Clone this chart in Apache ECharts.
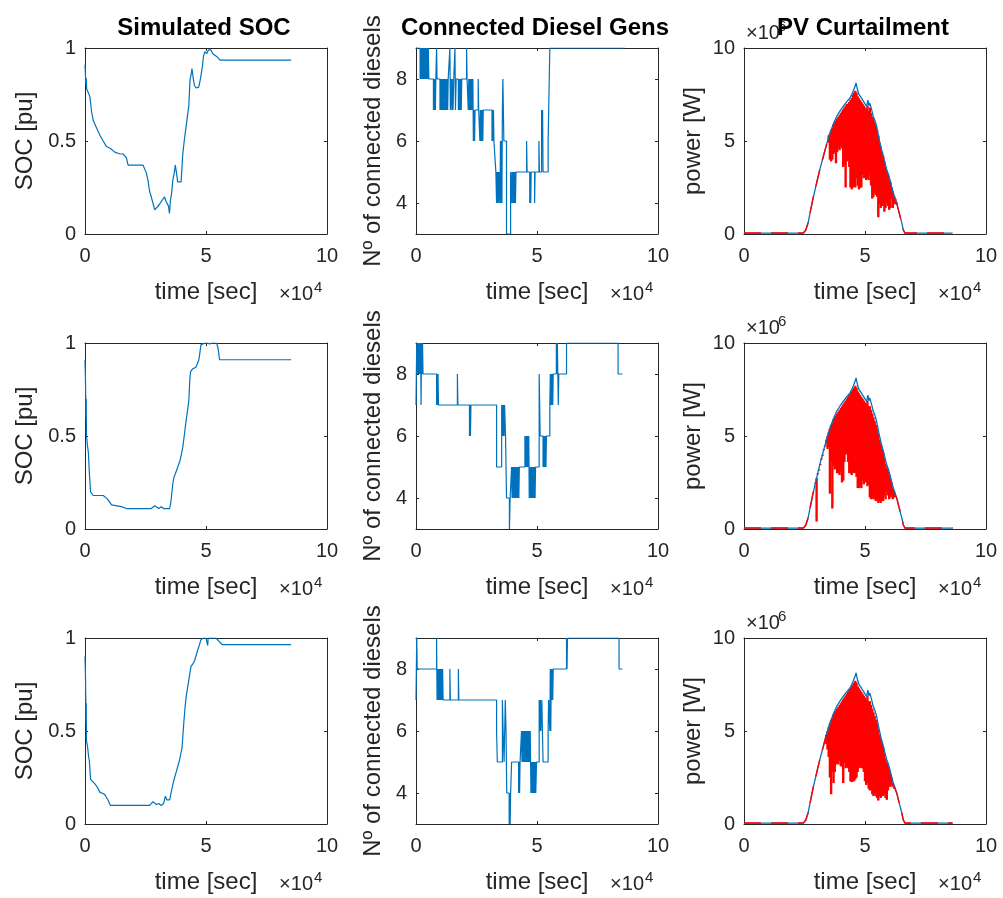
<!DOCTYPE html>
<html>
<head>
<meta charset="utf-8">
<script src="https://cdn.jsdelivr.net/npm/echarts@6/dist/echarts.min.js"></script>
<style>
html,body{margin:0;padding:0;background:#fff;}
#chart{width:1003px;height:898px;}
</style>
</head>
<body>
<div id="chart"></div>
<script>
// ---------- tick labels / titles ----------
const columnTitles = ['Simulated SOC', 'Connected Diesel Gens', 'PV Curtailment'];
const yAxisNames = ['SOC [pu]', 'Nº of connected diesels', 'power [W]'];
const xAxisName = 'time [sec]';
const xTicks = [0, 5, 10];          // ×10^4 sec
const socTicks = [0, 0.5, 1];
const dieselTicks = [4, 6, 8];
const pvTicks = [0, 5, 10];         // ×10^6 W

// ---------- SOC (time in 1e4 s, SOC in pu) ----------
const soc1 = [[0,0.91],[0.02,0.85],[0.04,0.80],[0.05,0.84],[0.07,0.78],[0.12,0.77],[0.2,0.74],[0.27,0.66],[0.34,0.61],[0.48,0.57],[0.62,0.53],[0.75,0.50],[0.89,0.47],[1.05,0.46],[1.23,0.44],[1.45,0.43],[1.58,0.43],[1.71,0.41],[1.78,0.37],[2.1,0.37],[2.40,0.37],[2.53,0.33],[2.60,0.29],[2.67,0.23],[2.78,0.18],[2.88,0.13],[2.95,0.14],[3.08,0.16],[3.18,0.18],[3.29,0.20],[3.33,0.18],[3.40,0.18],[3.45,0.15],[3.49,0.11],[3.53,0.18],[3.58,0.22],[3.63,0.29],[3.69,0.33],[3.73,0.37],[3.78,0.33],[3.83,0.28],[3.97,0.28],[4.04,0.43],[4.10,0.50],[4.15,0.55],[4.22,0.62],[4.29,0.69],[4.34,0.83],[4.39,0.86],[4.42,0.89],[4.45,0.86],[4.48,0.83],[4.52,0.80],[4.59,0.785],[4.64,0.79],[4.70,0.79],[4.75,0.82],[4.79,0.85],[4.85,0.90],[4.89,0.95],[4.95,0.98],[5.0,0.99],[5.04,0.97],[5.07,0.97],[5.1,0.99],[5.14,1.0],[5.2,0.99],[5.27,0.97],[5.35,0.96],[5.48,0.95],[5.58,0.935],[8.52,0.935]];
const soc2 = [[0,0.91],[0.02,0.80],[0.03,0.70],[0.04,0.60],[0.05,0.70],[0.06,0.50],[0.08,0.48],[0.10,0.45],[0.14,0.41],[0.18,0.30],[0.23,0.20],[0.28,0.19],[0.34,0.18],[0.75,0.18],[0.82,0.17],[0.89,0.166],[0.96,0.155],[1.03,0.148],[1.10,0.13],[1.16,0.12],[1.5,0.12],[1.71,0.11],[2.74,0.11],[2.82,0.12],[2.88,0.125],[2.95,0.115],[3.05,0.11],[3.15,0.12],[3.25,0.11],[3.49,0.11],[3.53,0.13],[3.56,0.157],[3.63,0.246],[3.68,0.28],[3.74,0.30],[3.84,0.336],[3.93,0.37],[3.98,0.40],[4.04,0.44],[4.10,0.50],[4.18,0.585],[4.24,0.64],[4.29,0.69],[4.33,0.80],[4.36,0.845],[4.44,0.86],[4.52,0.854],[4.58,0.87],[4.63,0.88],[4.70,0.907],[4.75,0.95],[4.79,0.99],[4.86,1.0],[4.95,1.0],[5.0,0.99],[5.05,1.0],[5.15,0.995],[5.25,1.0],[5.44,1.0],[5.5,0.97],[5.55,0.96],[5.56,0.91],[8.52,0.91]];
const soc3 = [[0,0.90],[0.02,0.80],[0.03,0.69],[0.04,0.55],[0.05,0.65],[0.06,0.45],[0.11,0.41],[0.15,0.36],[0.18,0.34],[0.23,0.24],[0.30,0.23],[0.41,0.216],[0.5,0.20],[0.62,0.17],[0.72,0.165],[0.82,0.158],[0.90,0.14],[0.96,0.126],[1.05,0.10],[2.67,0.10],[2.75,0.11],[2.81,0.12],[2.88,0.11],[2.95,0.105],[3.05,0.11],[3.15,0.10],[3.25,0.11],[3.32,0.15],[3.38,0.13],[3.45,0.12],[3.50,0.13],[3.56,0.17],[3.66,0.23],[3.77,0.28],[3.90,0.34],[4.01,0.41],[4.08,0.54],[4.13,0.62],[4.18,0.685],[4.29,0.775],[4.38,0.847],[4.45,0.86],[4.52,0.874],[4.60,0.91],[4.66,0.937],[4.72,0.96],[4.79,0.99],[4.89,1.0],[5.0,1.0],[5.05,0.99],[5.07,0.96],[5.09,1.0],[5.41,1.0],[5.48,0.99],[5.55,0.98],[5.62,0.97],[5.68,0.964],[8.52,0.964]];

// ---------- connected diesels (step: value held from t to next t) ----------
const diesel1 = [[0,9],[0.17,8],[0.19,9],[0.21,8],[0.23,9],[0.25,8],[0.27,9],[0.29,8],[0.31,9],[0.33,8],[0.35,9],[0.37,8],[0.39,9],[0.41,8],[0.43,9],[0.45,8],[0.47,9],[0.49,8],[0.51,9],[0.53,8],
 [0.72,7],[0.74,8],[0.76,7],[0.78,8],[0.80,7],[0.82,8],[0.85,9],[0.87,8],[0.99,7],[1.01,8],[1.03,7],[1.05,8],[1.07,7],[1.09,8],[1.11,7],[1.13,8],[1.15,7],[1.17,8],[1.19,7],[1.21,8],[1.23,7],[1.25,8],[1.27,7],[1.29,8],[1.31,7],[1.33,8],[1.40,9],[1.42,7],[1.45,8],[1.48,7],[1.50,8],[1.53,7],[1.56,8],[1.61,9],[1.63,7],[1.66,8],[1.75,7],[1.77,8],[1.79,7],[1.81,8],[1.83,7],[1.85,8],[1.87,7],[1.89,8],[2.09,9],[2.11,8],[2.16,7],[2.18,8],[2.20,7],[2.22,8],[2.24,7],[2.26,8],[2.28,7],[2.30,8],[2.32,7],[2.35,8],[2.37,6],[2.40,7],[2.42,6],[2.44,7],[2.57,8],[2.59,7],[2.64,6],[2.66,7],[2.68,6],[2.70,7],[2.72,6],[2.74,7],[2.76,6],[2.78,7],[3.14,6],[3.16,7],[3.18,6],[3.20,7],[3.22,6],[3.30,5],[3.33,4],[3.35,5],[3.37,4],[3.39,5],[3.41,4],[3.43,5],[3.47,4],[3.49,6],[3.51,4],[3.53,6],[3.55,4],[3.57,7],[3.59,8],[3.61,7],[3.63,6],[3.74,3],[3.91,5],[3.95,4],[3.97,5],[3.99,4],[4.01,5],[4.03,4],[4.05,5],[4.07,4],[4.09,5],[4.11,4],[4.13,5],[4.57,6],[4.59,5],[4.70,4],[4.72,5],[4.74,4],[4.76,5],[4.90,4],[4.92,5],[5.08,6],[5.10,5],[5.19,7],[5.21,6],[5.23,7],[5.25,5],[5.46,6],[5.53,9],[8.62,9]];
const diesel2 = [[0,7],[0.03,9],[0.05,8],[0.07,9],[0.09,8],[0.11,9],[0.13,8],[0.15,9],[0.17,8],[0.19,9],[0.21,7],[0.23,9],[0.25,8],[0.27,9],[0.29,8],[0.85,7],[0.87,8],[0.89,7],[0.91,8],[0.93,7],[1.71,8],[1.73,7],[2.21,6],[2.23,7],[2.25,6],[2.27,7],[3.33,5],[3.54,7],[3.56,6],[3.58,7],[3.60,6],[3.62,7],[3.64,6],[3.66,7],[3.70,6],[3.74,4],[3.86,3],[3.89,4],[3.95,5],[3.97,4],[3.99,5],[4.01,4],[4.03,5],[4.05,4],[4.07,5],[4.09,4],[4.11,5],[4.13,4],[4.15,5],[4.17,4],[4.19,5],[4.21,4],[4.23,5],[4.25,4],[4.27,5],[4.50,6],[4.52,5],[4.54,6],[4.56,5],[4.58,6],[4.60,5],[4.62,6],[4.64,5],[4.66,6],[4.68,4],[4.70,5],[4.72,4],[4.74,5],[4.76,4],[4.78,5],[4.80,4],[4.82,5],[4.84,4],[4.86,5],[4.88,4],[4.90,5],[4.92,4],[4.94,5],[5.09,8],[5.11,7],[5.13,6],[5.25,5],[5.27,6],[5.29,5],[5.31,6],[5.33,5],[5.35,6],[5.37,5],[5.39,6],[5.53,7],[5.55,8],[5.57,7],[5.59,8],[5.61,7],[5.63,8],[5.65,7],[5.67,8],[5.80,9],[5.82,8],[5.84,9],[5.86,8],[5.88,7],[5.90,8],[6.22,9],[8.35,8],[8.53,8]];
const diesel3 = [[0,7],[0.03,9],[0.05,8],[0.85,9],[0.87,7],[0.89,8],[0.91,7],[0.93,8],[0.95,7],[0.97,8],[0.99,7],[1.01,8],[1.03,7],[1.05,8],[1.07,7],[1.10,8],[1.12,7],[1.40,8],[1.42,7],[1.75,8],[1.77,7],[3.33,6],[3.36,5],[3.57,7],[3.60,6],[3.64,5],[3.69,7],[3.72,6],[3.75,4],[3.85,3],[3.87,4],[3.89,3],[3.91,4],[3.95,5],[4.24,4],[4.26,5],[4.28,4],[4.30,5],[4.36,6],[4.38,5],[4.40,6],[4.42,5],[4.44,6],[4.46,5],[4.48,6],[4.50,5],[4.52,6],[4.54,5],[4.56,6],[4.58,5],[4.60,6],[4.62,5],[4.64,6],[4.66,5],[4.68,6],[4.70,5],[4.72,6],[4.75,4],[4.77,5],[4.79,4],[4.81,5],[4.83,4],[4.85,5],[4.87,4],[4.89,5],[4.91,4],[4.93,5],[4.95,4],[4.98,5],[5.09,7],[5.12,6],[5.14,7],[5.16,6],[5.20,7],[5.25,5],[5.46,6],[5.48,7],[5.53,6],[5.55,8],[5.57,6],[5.59,8],[5.61,7],[5.63,8],[5.65,7],[5.67,8],[6.22,9],[6.24,8],[6.26,9],[8.39,8],[8.53,8]];

// ---------- PV (time in 1e4 s, power in 1e6 W) ----------
const pvAvailable = [[0,0.05],[2.45,0.05],[2.55,0.2],[2.65,0.6],[2.73,1.13],[2.85,1.9],[3.0,2.74],[3.14,3.5],[3.28,4.18],[3.42,4.85],[3.55,5.43],[3.69,5.9],[3.83,6.33],[3.96,6.6],[4.10,6.86],[4.24,7.1],[4.38,7.31],[4.45,7.5],[4.52,7.7],[4.59,7.94],[4.63,8.12],[4.66,8.05],[4.70,7.7],[4.75,7.5],[4.79,7.4],[4.86,7.3],[4.93,7.22],[5.0,7.0],[5.07,6.86],[5.12,7.2],[5.16,6.9],[5.20,7.04],[5.27,6.7],[5.34,6.33],[5.41,6.1],[5.48,5.79],[5.55,5.3],[5.62,4.89],[5.69,4.5],[5.76,4.18],[5.83,3.8],[5.90,3.46],[5.97,3.2],[6.03,2.92],[6.10,2.55],[6.17,2.2],[6.24,1.95],[6.31,1.67],[6.38,1.3],[6.45,0.95],[6.52,0.6],[6.58,0.23],[6.65,0.05],[8.62,0.05]];
// curtailed output in the fluctuating window: [t, upper, lower]
const pvOut1 = [[3.50,5.3,4.9],[3.55,5.4,4.0],[3.60,5.6,3.9],[3.65,5.7,4.0],[3.70,5.9,4.3],[3.75,6.0,4.4],[3.80,6.1,3.8],[3.85,6.2,4.4],[3.90,6.3,4.6],[3.95,6.4,4.5],[4.00,6.5,4.7],[4.05,6.6,4.6],[4.10,6.7,3.6],[4.15,6.8,3.7],[4.20,6.9,2.5],[4.25,7.0,3.9],[4.30,7.0,4.0],[4.35,7.1,3.6],[4.40,7.2,2.5],[4.45,7.3,2.4],[4.50,7.5,2.5],[4.55,7.6,2.6],[4.60,7.7,2.5],[4.65,7.6,3.0],[4.70,7.4,2.6],[4.75,7.3,2.4],[4.80,7.2,2.5],[4.85,7.1,2.5],[4.90,7.0,3.2],[4.95,6.9,3.0],[5.00,6.8,3.2],[5.05,6.7,2.9],[5.10,6.9,3.0],[5.15,6.6,2.9],[5.20,6.8,3.2],[5.25,6.5,2.6],[5.30,6.3,1.9],[5.35,6.2,2.0],[5.40,6.0,2.2],[5.45,5.8,2.1],[5.50,5.6,2.0],[5.55,5.3,0.9],[5.60,4.9,1.6],[5.65,4.7,1.4],[5.70,4.4,1.5],[5.75,4.2,1.6],[5.80,3.9,1.2],[5.85,3.6,1.4],[5.90,3.4,1.7],[5.95,3.2,1.5],[6.00,2.9,1.3],[6.05,2.8,1.4],[6.10,2.5,1.9],[6.15,2.3,1.4],[6.20,2.0,1.7],[6.25,1.9,1.6],[6.30,1.7,1.6]];
const pvOut2 = [[2.95,2.5,2.5],[3.00,2.74,0.4],[3.05,3.0,3.0],[3.10,3.2,3.2],[3.15,3.5,3.5],[3.20,3.8,3.8],[3.25,4.0,4.0],[3.30,4.3,4.3],[3.35,4.5,4.5],[3.40,4.8,4.6],[3.45,5.0,4.3],[3.50,5.2,4.4],[3.55,5.4,1.9],[3.60,5.6,3.6],[3.65,5.7,1.1],[3.70,5.9,3.4],[3.75,6.0,3.2],[3.80,6.1,3.4],[3.85,6.2,3.0],[3.90,6.3,3.0],[3.95,6.4,2.9],[4.00,6.5,3.1],[4.05,6.6,2.5],[4.10,6.7,2.6],[4.15,6.8,3.6],[4.20,6.9,4.0],[4.25,7.0,4.1],[4.30,7.1,3.6],[4.35,7.2,3.0],[4.40,7.3,3.0],[4.45,7.4,2.9],[4.50,7.5,3.0],[4.55,7.6,3.1],[4.60,7.7,3.0],[4.65,7.6,2.8],[4.70,7.4,2.2],[4.75,7.3,2.2],[4.80,7.2,2.3],[4.85,7.1,2.2],[4.90,7.0,2.6],[4.95,6.9,2.4],[5.00,6.8,2.8],[5.05,6.7,2.5],[5.10,6.9,2.3],[5.15,6.6,2.4],[5.20,6.6,1.7],[5.25,6.4,1.6],[5.30,6.2,1.7],[5.35,6.0,1.6],[5.40,5.8,1.6],[5.45,5.6,1.5],[5.50,5.4,1.6],[5.55,5.1,1.4],[5.60,4.8,1.5],[5.65,4.6,1.4],[5.70,4.3,1.6],[5.75,4.1,1.5],[5.80,3.8,1.8],[5.85,3.5,1.6],[5.90,3.3,2.0],[5.95,3.1,1.8],[6.00,2.9,1.6],[6.05,2.7,1.7],[6.10,2.5,1.8],[6.15,2.2,1.6],[6.20,2.0,1.7],[6.25,1.8,1.8]];
const pvOut3 = [[3.40,4.8,4.3],[3.45,5.0,4.0],[3.50,5.2,3.6],[3.55,5.4,2.5],[3.60,5.6,1.6],[3.65,5.7,2.8],[3.70,5.9,2.2],[3.75,6.0,2.8],[3.80,6.1,3.2],[3.85,6.2,3.3],[3.90,6.3,3.2],[3.95,6.4,3.4],[4.00,6.5,3.1],[4.05,6.6,3.1],[4.10,6.7,2.2],[4.15,6.8,3.3],[4.20,6.9,3.0],[4.25,7.0,3.1],[4.30,7.1,3.0],[4.35,7.2,2.8],[4.40,7.3,2.3],[4.45,7.4,2.25],[4.50,7.5,2.3],[4.55,7.6,2.3],[4.60,7.7,2.4],[4.65,7.6,2.5],[4.70,7.4,2.8],[4.75,7.3,3.0],[4.80,7.2,3.1],[4.85,7.1,3.0],[4.90,7.0,3.0],[4.95,6.9,2.8],[5.00,6.8,2.3],[5.05,6.7,2.1],[5.10,6.9,2.2],[5.15,6.6,1.9],[5.20,6.6,1.8],[5.25,6.4,1.9],[5.30,6.2,1.6],[5.35,6.0,1.5],[5.40,5.8,1.6],[5.45,5.6,1.5],[5.50,5.4,1.4],[5.55,5.1,1.26],[5.60,4.8,1.5],[5.65,4.6,1.4],[5.70,4.3,1.5],[5.75,4.1,1.5],[5.80,3.8,1.6],[5.85,3.5,1.4],[5.90,3.3,1.3],[5.95,3.1,1.8],[6.00,2.9,2.0],[6.05,2.7,2.0],[6.10,2.5,2.1],[6.15,2.2,2.0],[6.20,2.0,1.9]];

const socRuns = [soc1, soc2, soc3];
const dieselRuns = [diesel1, diesel2, diesel3];
const pvOutRuns = [pvOut1, pvOut2, pvOut3];

// ---------- layout ----------
const FONT = '"Liberation Sans", Arial, Helvetica, sans-serif';
const TXT = '#262626';
const BLUE = '#0072BD';
const RED = '#FF0000';
const colLeft = [85, 416, 744];
const rowTop = [48, 343, 638];
const W = 242, H = 186;
const yNameGap = [48, 31, 39];

const chart = echarts.init(document.getElementById('chart'), null, {renderer: 'canvas'});

const grids = [], xAxes = [], yAxes = [], series = [], graphics = [];
const xAxesTop = [], yAxesRight = [];

function yRange(c) {
  if (c === 0) return {min: 0, max: 1, ticks: socTicks};
  if (c === 1) return {min: 3, max: 9, ticks: dieselTicks};
  return {min: 0, max: 10, ticks: pvTicks};
}

for (let r = 0; r < 3; r++) {
  for (let c = 0; c < 3; c++) {
    const g = r * 3 + c;
    grids.push({left: colLeft[c], top: rowTop[r], width: W, height: H, containLabel: false});
    const yr = yRange(c);
    const axLine = {show: true, onZero: false, lineStyle: {color: TXT, width: 1}};
    const tick = {show: true, inside: true, length: 3, lineStyle: {color: TXT, width: 1}};
    xAxes.push({
      type: 'value', gridIndex: g, min: 0, max: 10, position: 'bottom',
      axisLine: axLine,
      axisTick: Object.assign({}, tick, {customValues: xTicks}),
      axisLabel: {show: true, customValues: xTicks, color: TXT, fontSize: 20, fontFamily: FONT, margin: 12},
      splitLine: {show: false},
      name: xAxisName, nameLocation: 'middle', nameGap: 46,
      nameTextStyle: {color: TXT, fontSize: 24, fontFamily: FONT}
    });
    xAxesTop.push({
      type: 'value', gridIndex: g, min: 0, max: 10, position: 'top',
      axisLine: axLine,
      axisTick: Object.assign({}, tick, {customValues: xTicks}),
      axisLabel: {show: false}, splitLine: {show: false}
    });
    yAxes.push({
      type: 'value', gridIndex: g, min: yr.min, max: yr.max, position: 'left',
      axisLine: axLine,
      axisTick: Object.assign({}, tick, {customValues: yr.ticks}),
      axisLabel: {show: true, customValues: yr.ticks, color: TXT, fontSize: 20, fontFamily: FONT, margin: 9},
      splitLine: {show: false},
      name: yAxisNames[c], nameLocation: 'middle', nameGap: yNameGap[c], nameRotate: 90,
      nameTextStyle: {color: TXT, fontSize: 24, fontFamily: FONT}
    });
    yAxesRight.push({
      type: 'value', gridIndex: g, min: yr.min, max: yr.max, position: 'right',
      axisLine: axLine,
      axisTick: Object.assign({}, tick, {customValues: yr.ticks}),
      axisLabel: {show: false}, splitLine: {show: false}
    });

    const base = {type: 'line', xAxisIndex: g, yAxisIndex: g, showSymbol: false, symbol: 'none',
      animation: false, silent: true, clip: true};
    if (c === 0) {
      series.push(Object.assign({}, base, {data: socRuns[r], lineStyle: {color: BLUE, width: 1.2}}));
    } else if (c === 1) {
      series.push(Object.assign({}, base, {data: dieselRuns[r], step: 'end', lineStyle: {color: BLUE, width: 1.2}}));
    } else {
      const out = pvOutRuns[r];
      const t0 = out[0][0], t1 = out[out.length - 1][0];
      const dt = out[1][0] - out[0][0];
      series.push(Object.assign({}, base, {data: pvAvailable, lineStyle: {color: BLUE, width: 1.3}}));
      const left = pvAvailable.filter(p => p[0] < t0).concat([[t0, out[0][1]]]);
      const right = [[t1, out[out.length - 1][1]]].concat(pvAvailable.filter(p => p[0] > t1));
      series.push(Object.assign({}, base, {data: left, lineStyle: {color: RED, width: 1.4, type: [17, 10]}}));
      series.push(Object.assign({}, base, {data: right, lineStyle: {color: RED, width: 1.4, type: [17, 10]}}));
      // rapidly fluctuating output: one vertical band per sample from lower to upper value
      series.push({
        type: 'custom', xAxisIndex: g, yAxisIndex: g, silent: true, animation: false, clip: true,
        data: out,
        encode: {x: 0, y: [1, 2]},
        renderItem: function (params, api) {
          const t = api.value(0);
          const top = api.coord([t, api.value(1)]);
          const bot = api.coord([t, api.value(2)]);
          const w = api.size([dt, 0])[0];
          return {
            type: 'rect',
            shape: {x: top[0] - w / 2 - 0.6, y: top[1], width: w + 1.2, height: Math.max(1.2, bot[1] - top[1])},
            style: {fill: RED}
          };
        }
      });
    }

    // x exponent label (×10^4) at lower right
    const right = colLeft[c] + W;
    const baseY = rowTop[r] + H + 70;
    graphics.push({type: 'text', x: right - 14, y: baseY, style: {text: '×10', fill: TXT, fontSize: 20, fontFamily: FONT, textAlign: 'right', textVerticalAlign: 'bottom'}});
    graphics.push({type: 'text', x: right - 13, y: baseY - 9, style: {text: '4', fill: TXT, fontSize: 15, fontFamily: FONT, textAlign: 'left', textVerticalAlign: 'bottom'}});
    if (c === 2) {
      const ty = rowTop[r] - 5;
      graphics.push({type: 'text', x: colLeft[c] + 2, y: ty, style: {text: '×10', fill: TXT, fontSize: 20, fontFamily: FONT, textAlign: 'left', textVerticalAlign: 'bottom'}});
      graphics.push({type: 'text', x: colLeft[c] + 34, y: ty - 9, style: {text: '6', fill: TXT, fontSize: 15, fontFamily: FONT, textAlign: 'left', textVerticalAlign: 'bottom'}});
    }
  }
}

// column titles
columnTitles.forEach((t, c) => {
  graphics.push({type: 'text', x: colLeft[c] + W / 2 - 2, y: 28, z: 100,
    style: {text: t, fill: '#000', fontSize: 24, fontWeight: 'bold', fontFamily: FONT, textAlign: 'center', textVerticalAlign: 'middle'}});
});

chart.setOption({
  backgroundColor: '#fff',
  animation: false,
  grid: grids,
  xAxis: xAxes.concat(xAxesTop),
  yAxis: yAxes.concat(yAxesRight),
  series: series,
  graphic: graphics
});
</script>
</body>
</html>
